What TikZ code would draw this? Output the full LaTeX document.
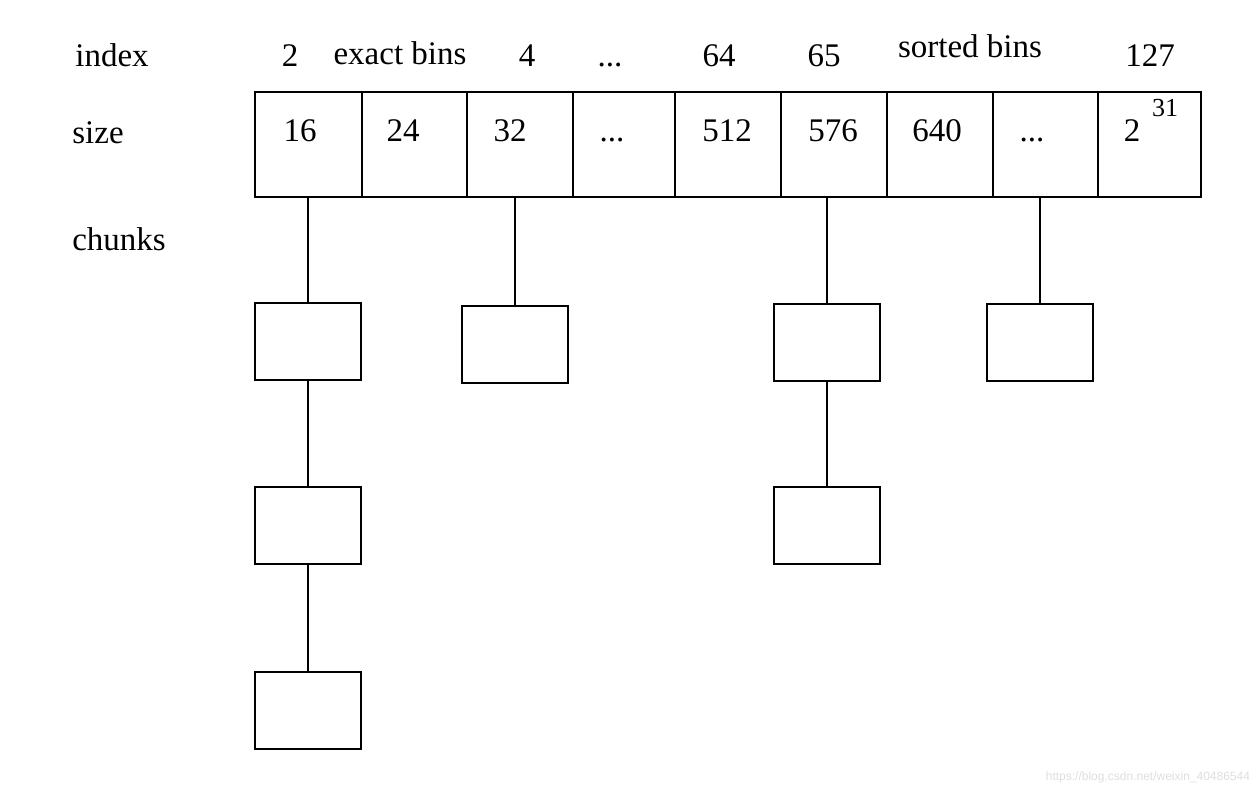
\documentclass[tikz,border=0pt]{standalone}
\usepackage{fontspec}
\setmainfont{Liberation Serif}
\newfontfamily\wmfont{Liberation Sans}
\begin{document}
\begin{tikzpicture}[x=1pt,y=-1pt,
  every node/.style={inner sep=0pt,outer sep=0pt},
  txt/.style={font=\fontsize{33}{37}\selectfont,anchor=base},
  cell/.style={draw,line width=2pt,minimum height=105pt,minimum width=#1},
  chunk/.style={draw,line width=2pt,minimum width=106pt,minimum height=77pt},
  link/.style={line width=2pt}]
\useasboundingbox (0,0) rectangle (1258,790);
% row labels
\node[txt] (lindex) at (112,66) {index};
\node[txt] (lsize) at (98,143) {size};
\node[txt] (lchunks) at (119,250) {chunks};
% index labels
\node[txt] (i2) at (290,66) {2};
\node[txt] (iexact) at (400,64) {exact bins};
\node[txt] (i4) at (527,66) {4};
\node[txt] (idots) at (610,66) {...};
\node[txt] (i64) at (719,66) {64};
\node[txt] (i65) at (824,66) {65};
\node[txt] (isorted) at (970,57) {sorted bins};
\node[txt] (i127) at (1150,66) {127};
% cells (edges 255,362,467,573,675,781,887,993,1098,1201)
\node[cell=107pt] (c1) at (308.5,144.5) {};
\node[cell=105pt] (c2) at (414.5,144.5) {};
\node[cell=106pt] (c3) at (520,144.5) {};
\node[cell=102pt] (c4) at (624,144.5) {};
\node[cell=106pt] (c5) at (728,144.5) {};
\node[cell=106pt] (c6) at (834,144.5) {};
\node[cell=106pt] (c7) at (940,144.5) {};
\node[cell=105pt] (c8) at (1045.5,144.5) {};
\node[cell=103pt] (c9) at (1149.5,144.5) {};
% cell texts
\node[txt] (s1) at (300,141) {16};
\node[txt] (s2) at (403,141) {24};
\node[txt] (s3) at (510,141) {32};
\node[txt] (s4) at (612,141) {...};
\node[txt] (s5) at (727,141) {512};
\node[txt] (s6) at (833,141) {576};
\node[txt] (s7) at (937,141) {640};
\node[txt] (s8) at (1032,141) {...};
\node[txt] (s9) at (1132,141) {2};
\node[txt,font=\fontsize{26}{30}\selectfont] (s9e) at (1165,116) {31};
% chunks
\node[chunk] (k1a) at (308,341.5) {};
\node[chunk] (k1b) at (308,525.5) {};
\node[chunk] (k1c) at (308,710) {};
\node[chunk] (k3a) at (514.5,344) {};
\node[chunk] (k6a) at (826.5,342) {};
\node[chunk] (k6b) at (826.5,525.5) {};
\node[chunk] (k8a) at (1040,342) {};
% links
\draw[link] (c1.south -| k1a.north) -- (k1a.north);
\draw[link] (k1a) -- (k1b);
\draw[link] (k1b) -- (k1c);
\draw[link] (c3.south -| k3a.north) -- (k3a.north);
\draw[link] (c6.south -| k6a.north) -- (k6a.north);
\draw[link] (k6a) -- (k6b);
\draw[link] (c8.south -| k8a.north) -- (k8a.north);
% watermark
\node[anchor=base east,font=\wmfont\fontsize{12}{14}\selectfont,text=black!13] (wm) at (1250,780) {https://blog.csdn.net/weixin\_40486544};
\end{tikzpicture}
\end{document}
